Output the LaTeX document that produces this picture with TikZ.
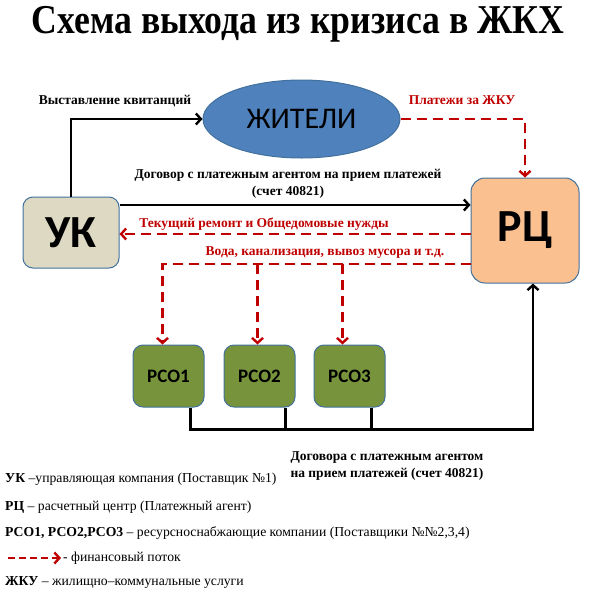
\documentclass[tikz,border=0pt]{standalone}
\usepackage{fontspec}
\setmainfont{Liberation Serif}
\newfontfamily\boxfont{Carlito}
\usetikzlibrary{shapes.geometric, arrows.meta, positioning}

\definecolor{flowred}{HTML}{C00000}
\definecolor{ukfill}{HTML}{DDD9C3}
\definecolor{rcfill}{HTML}{FAC090}
\definecolor{rsofill}{HTML}{77933C}
\definecolor{residentfill}{HTML}{4F81BD}
\definecolor{edgeblue}{HTML}{41719C}

\begin{document}
\begin{tikzpicture}[
    x=1pt, y=-1pt,
    % Style for the main boxes (nodes)
    box/.style={
        rectangle,
        rounded corners=10pt,
        draw=edgeblue,
        line width=1pt,
        inner sep=0pt,
        font=\boxfont\bfseries\fontsize{46}{46}\selectfont
    },
    % Style for the small supplier boxes
    rsobox/.style={
        box,
        fill=rsofill,
        minimum width=71pt,
        minimum height=62pt,
        font=\boxfont\bfseries\fontsize{19}{19}\selectfont
    },
    % Black contract lines and red money flows
    flow/.style={line width=2.4pt, -{Straight Barb[length=5pt,width=11pt]}},
    money/.style={flow, draw=flowred, dash pattern=on 10pt off 6pt},
    % Style for the labels on the connections (edges)
    edge_label/.style={
        inner sep=1pt,
        font=\bfseries\fontsize{13.5}{17}\selectfont,
        align=center
    },
    legend/.style={anchor=west, inner sep=0pt, font=\fontsize{13.7}{15}\selectfont}
]
\useasboundingbox (0,0) rectangle (596,600);

% Title
\node[xscale=0.87] (title) at (298,24) {\bfseries\fontsize{41}{41}\selectfont Схема выхода из кризиса в ЖКХ};

% 1. Place the nodes
\node[box, fill=ukfill, minimum width=96pt, minimum height=71pt] (uk) at (71,232.5) {УК};
\node[box, fill=rcfill, minimum width=108pt, minimum height=105pt, rounded corners=14pt] (rc) at (525,230.5) {РЦ};
\node[ellipse, draw=edgeblue, line width=1pt, fill=residentfill,
      minimum width=197pt, minimum height=78pt,
      font=\boxfont\fontsize{30}{30}\selectfont] (residents) at (301.5,119) {ЖИТЕЛИ};
\node[rsobox] (rso1) at (168.5,376) {РСО1};
\node[rsobox, right=19pt of rso1] (rso2) {РСО2};
\node[rsobox, right=18pt of rso2] (rso3) {РСО3};

% 2. Draw the arrows (edges) and place the labels
\draw[flow] (uk.north) |- (residents.west);
\node[edge_label] (lbl_bills) at (115,101) {Выставление квитанций};

\draw[money] (residents.east) -| (rc.north);
\node[edge_label, text=flowred] (lbl_pay) at (462,100) {Платежи за ЖКУ};

\draw[flow] ([yshift=27.5pt]uk.east) -- ([yshift=27.5pt]uk.east -| rc.west);
\node[edge_label] (lbl_contract) at (288,184) {Договор с платежным агентом на прием платежей\\(счет 40821)};

\draw[money] ([yshift=-3.5pt]rc.west) -- ([yshift=-3.5pt]rc.west -| uk.east);
\node[edge_label, text=flowred] (lbl_repair) at (264,224) {Текущий ремонт и Общедомовые нужды};

% water, sewage etc. go down to the suppliers
\coordinate (water) at ([yshift=-33.5pt]rc.west);
\coordinate (in1) at ([xshift=-6pt]rso1.north);
\coordinate (in2) at ([xshift=-2pt]rso2.north);
\coordinate (in3) at ([xshift=-7pt]rso3.north);
\draw[money] (water) -| (in1);
\draw[money] (water -| in2) -- (in2);
\draw[money] (water -| in3) -- (in3);
\node[edge_label, text=flowred] (lbl_water) at (325,253) {Вода, канализация, вывоз мусора и т.д.};

% contracts of the suppliers with the payment agent
\coordinate (out1) at ([xshift=22pt]rso1.south);
\coordinate (out2) at ([xshift=26pt]rso2.south);
\coordinate (out3) at ([xshift=22pt]rso3.south);
\coordinate (bus) at ([yshift=-22pt]out1);
\draw[flow] (out1) -- (bus) -| ([xshift=8pt]rc.south);
\draw[line width=2.4pt] (out2) -- (out2 |- bus);
\draw[line width=2.4pt] (out3) -- (out3 |- bus);
\node[edge_label, align=left] (lbl_bus) at (387,466) {Договора с платежным агентом\\на прием платежей (счет 40821)};

% 3. Legend
\node[legend] (leg_uk) at (5,479) {\textbf{УК} –управляющая компания (Поставщик №1)};
\node[legend] (leg_rc) at (5,507) {\textbf{РЦ} – расчетный центр (Платежный агент)};
\node[legend] (leg_rso) at (5,533) {\textbf{РСО1, РСО2,РСО3} – ресурсноснабжающие компании (Поставщики №№2,3,4)};
\coordinate (leg_a) at (8,558);
\coordinate (leg_b) at (61,558);
\draw[money, dash pattern=on 7pt off 4pt] (leg_a) -- (leg_b);
\node[legend] (leg_flow) at (63,558) {- финансовый поток};
\node[legend] (leg_zku) at (5,582) {\textbf{ЖКУ} – жилищно–коммунальные услуги};

\end{tikzpicture}
\end{document}
